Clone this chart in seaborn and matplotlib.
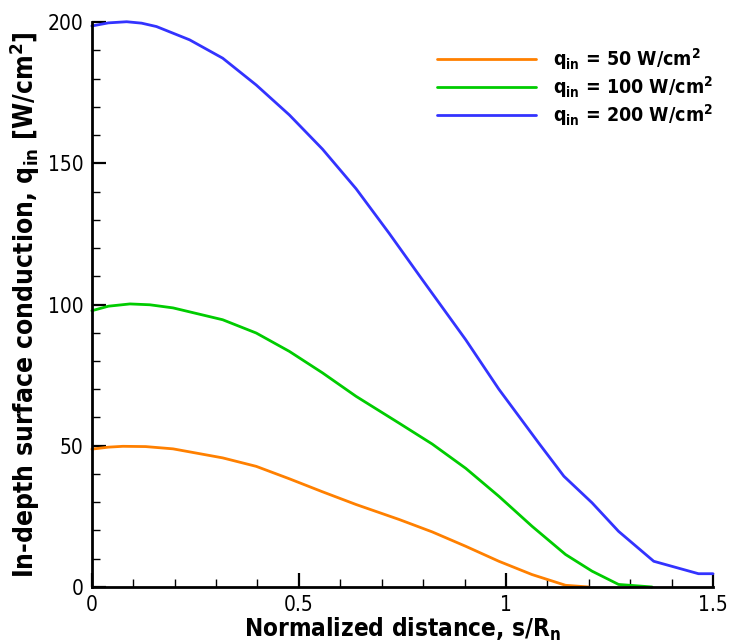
import numpy as np
import pandas as pd
import matplotlib
matplotlib.use("Agg")
import matplotlib.pyplot as plt
import seaborn as sns
from matplotlib.ticker import MultipleLocator

# ---- data ----
s_50 = [0.0, 0.04, 0.075, 0.13, 0.196, 0.316, 0.397, 0.477, 0.557, 0.638, 0.742, 0.822, 0.903, 0.983, 1.063, 1.144, 1.20]
q_50 = [48.8, 49.5, 49.8, 49.7, 48.9, 45.7, 42.7, 38.3, 33.7, 29.2, 23.9, 19.5, 14.4, 9.1, 4.4, 0.6, 0.0]

s_100 = [0.0, 0.04, 0.092, 0.14, 0.196, 0.316, 0.397, 0.477, 0.557, 0.638, 0.742, 0.822, 0.903, 0.983, 1.063, 1.144, 1.208, 1.272, 1.353]
q_100 = [97.8, 99.4, 100.2, 99.9, 98.8, 94.6, 89.9, 83.4, 75.8, 67.5, 58.0, 50.6, 42.0, 32.1, 21.5, 11.5, 5.6, 0.9, 0.0]

s_200 = [0.0, 0.04, 0.084, 0.12, 0.156, 0.236, 0.316, 0.397, 0.477, 0.557, 0.638, 0.718, 0.798, 0.903, 0.983, 1.08, 1.14, 1.208, 1.272, 1.357, 1.465, 1.5]
q_200 = [198.6, 199.7, 200.1, 199.6, 198.4, 193.7, 187.2, 177.7, 167.1, 155.0, 141.0, 125.2, 108.8, 87.5, 70.0, 50.8, 39.2, 29.8, 19.7, 9.1, 4.7, 4.7]

labels = [r"q$_{\mathbf{in}}$ = 50 W/cm$^{\mathbf{2}}$",
          r"q$_{\mathbf{in}}$ = 100 W/cm$^{\mathbf{2}}$",
          r"q$_{\mathbf{in}}$ = 200 W/cm$^{\mathbf{2}}$"]
colors = ["#ff8000", "#00cc00", "#3333ff"]

sns.set_style("ticks")
fam = ["DejaVu Sans", "Liberation Sans"]
plt.rcParams["font.family"] = fam
plt.rcParams["font.stretch"] = "condensed"
plt.rcParams["text.color"] = "black"
plt.rcParams["axes.labelcolor"] = "black"
plt.rcParams["xtick.color"] = "black"
plt.rcParams["ytick.color"] = "black"
plt.rcParams["mathtext.fontset"] = "custom"
plt.rcParams["mathtext.bf"] = "DejaVu Sans:weight=bold:stretch=condensed"
plt.rcParams["mathtext.rm"] = "DejaVu Sans:weight=bold:stretch=condensed"
plt.rcParams["mathtext.default"] = "bf"

frames = []
for s, q, lab in zip([s_50, s_100, s_200], [q_50, q_100, q_200], labels):
    frames.append(pd.DataFrame({"s": s, "q": q, "case": lab}))
df = pd.concat(frames, ignore_index=True)

fig = plt.figure(figsize=(7.29, 6.42), dpi=100)
ax = fig.add_axes([0.126, 0.0857, 0.852, 0.88])

sns.lineplot(data=df, x="s", y="q", hue="case", palette=colors, estimator=None,
             sort=False, linewidth=2.0, ax=ax, clip_on=False)

ax.set_xlim(0, 1.5)
ax.set_ylim(0, 200)
ax.xaxis.set_minor_locator(MultipleLocator(0.1))
ax.yaxis.set_minor_locator(MultipleLocator(10))
ax.set_xticks([0, 0.5, 1, 1.5])
ax.set_xticklabels(["0", "0.5", "1", "1.5"])
ax.set_yticks([0, 50, 100, 150, 200])
ax.set_yticklabels(["0", "50", "100", "150", "200"])

ax.tick_params(which="major", direction="in", length=10, width=1.6, labelsize=15, pad=6,
               color="black", labelcolor="black")
ax.tick_params(which="minor", direction="in", length=5.5, width=1.0, color="black")
ax.tick_params(axis="both", which="both", top=False, right=False)
for lab in ax.get_xticklabels() + ax.get_yticklabels():
    lab.set_family(fam)
    lab.set_stretch("condensed")

for sp in ["top", "right"]:
    ax.spines[sp].set_visible(False)
for sp in ["left", "bottom"]:
    ax.spines[sp].set_linewidth(2.0)
    ax.spines[sp].set_color("black")

ax.set_xlabel(r"Normalized distance, s/R$_{\mathbf{n}}$", fontsize=17.5, fontweight="bold",
              fontstretch="condensed", labelpad=0, color="black")
ax.set_ylabel(r"In-depth surface conduction, q$_{\mathbf{in}}$ [W/cm$^{\mathbf{2}}$]",
              fontsize=19, fontweight="bold", fontstretch="condensed", labelpad=4, color="black")

leg = ax.legend(loc="upper right", bbox_to_anchor=(1.0, 0.957), frameon=False,
                prop={"family": fam, "weight": "bold", "size": 14, "stretch": "condensed"},
                handlelength=5.1, handletextpad=0.85, labelspacing=0.1,
                borderaxespad=0.0, borderpad=0.0)
for line in leg.get_lines():
    line.set_linewidth(2.0)
for t in leg.get_texts():
    t.set_color("black")

fig.savefig("out.png", dpi=100)
